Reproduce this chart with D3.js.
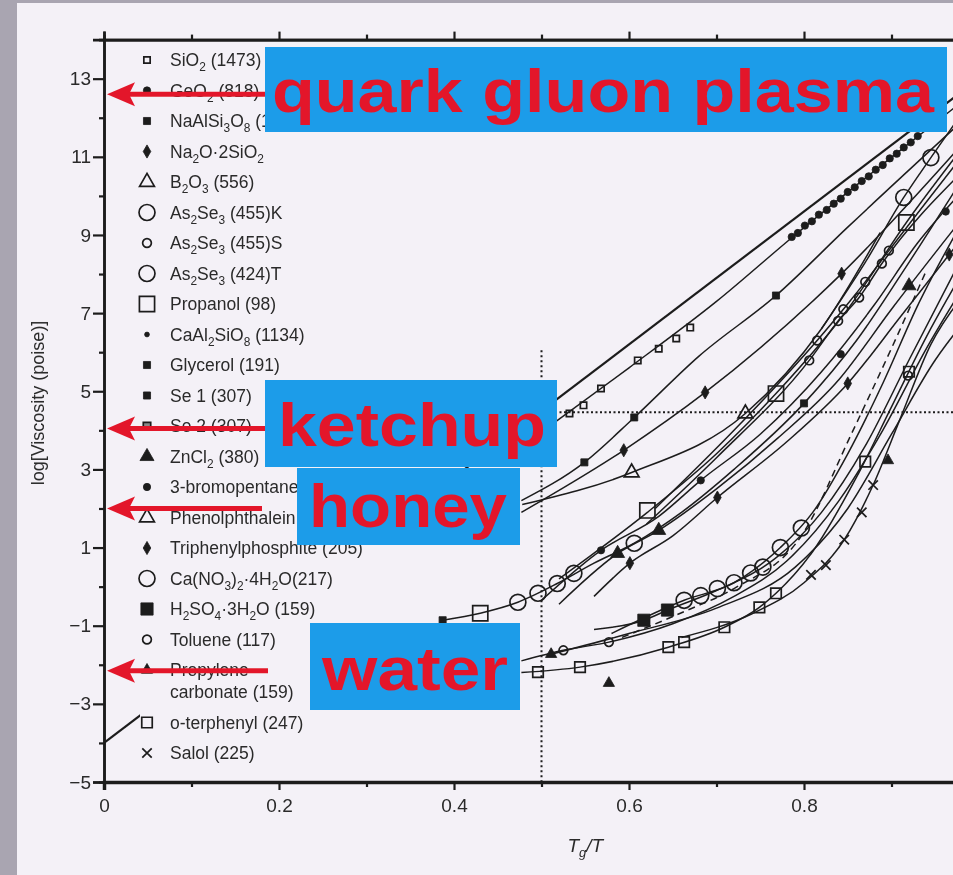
<!DOCTYPE html>
<html>
<head>
<meta charset="utf-8">
<script src="https://cdn.jsdelivr.net/npm/d3@7"></script>
<style>
  body { margin: 0; background: #f4f1f7; }
  svg { display: block; }
</style>
</head>
<body>
<svg id="chart" width="953" height="875"></svg>
<script>
// Angell plot (log viscosity vs Tg/T) with the slide's labels on top.

// ---- data: [Tg/T, log viscosity] ----
var sio2Fit = [[0, -4], [1, 13]];
var sio2bFit = [[0.515, 4.2], [0.6, 5.6], [0.7, 7.3], [0.786, 8.93], [0.929, 11.5], [0.98, 12.4]];
var sio2Pts = [[0.532, 4.43], [0.548, 4.64], [0.568, 5.07], [0.61, 5.79], [0.634, 6.09], [0.654, 6.35], [0.67, 6.63]];
var geo2Pts = [[0.786, 8.95], [0.793, 9.05], [0.801, 9.24], [0.809, 9.35], [0.817, 9.52], [0.826, 9.64],
  [0.834, 9.8], [0.842, 9.93], [0.85, 10.1], [0.858, 10.22], [0.866, 10.38], [0.874, 10.5], [0.882, 10.67],
  [0.89, 10.79], [0.898, 10.96], [0.906, 11.08], [0.914, 11.24], [0.922, 11.37], [0.93, 11.53]];
var naalFit = [[0.477, 2.2], [0.549, 3.18], [0.606, 4.33], [0.68, 5.9], [0.768, 7.45], [0.85, 9.2], [0.98, 11.9]];
var naalPts = [[0.549, 3.18], [0.606, 4.33], [0.768, 7.45]];
var na2oFit = [[0.477, 1.9], [0.594, 3.49], [0.687, 4.97], [0.843, 8.01], [0.98, 11.3]];
var na2oPts = [[0.594, 3.49], [0.687, 4.97], [0.843, 8.01]];
var b2o3Fit = [[0.478, 2.1], [0.603, 2.92], [0.733, 4.43], [0.82, 6.6], [0.887, 9.06]];
var b2o3Pts = [[0.603, 2.92], [0.733, 4.43]];
var propanolFit = [[0.52, 0.2], [0.621, 1.9], [0.7, 3.4], [0.768, 4.94], [0.85, 7.1], [0.917, 9.32], [0.98, 11.2]];
var propanolPts = [[0.621, 1.95], [0.768, 4.94], [0.917, 9.32]];
var asSFit = [[0.62, 1.6], [0.7, 3.3], [0.806, 5.79], [0.839, 6.8], [0.863, 7.4], [0.889, 8.27], [0.98, 10.6]];
var asSPts = [[0.806, 5.79], [0.839, 6.8], [0.863, 7.4], [0.889, 8.27]];
var asTFit = [[0.63, 2.0], [0.72, 4.0], [0.815, 6.3], [0.845, 7.1], [0.87, 7.8], [0.897, 8.6], [0.98, 11.0]];
var asTPts = [[0.815, 6.3], [0.845, 7.1], [0.87, 7.8], [0.897, 8.6]];
var asKFit = [[0.82, 6.6], [0.87, 8.3], [0.914, 9.96], [0.945, 10.98], [0.98, 12.1]];
var asKPts = [[0.914, 9.96], [0.945, 10.98]];

var m1Fit = [[0.387, -0.86], [0.43, -0.68], [0.473, -0.4], [0.518, 0.08], [0.56, 0.6], [0.606, 1.11],
  [0.66, 1.9], [0.72, 3.0], [0.8, 4.69], [0.86, 6.3], [0.92, 8.3], [0.98, 10.4]];
var m1Pts = [[0.473, -0.4], [0.496, -0.17], [0.518, 0.08], [0.537, 0.34], [0.606, 1.11]];
var m1Square = [[0.43, -0.68]];
var m1Start = [[0.387, -0.86], [0.8, 4.69]];
var m2Fit = [[0.5, -0.35], [0.568, 0.93], [0.634, 1.8], [0.682, 2.72], [0.75, 3.9], [0.82, 5.5], [0.88, 7.2], [0.93, 8.8], [0.98, 10.1]];
var m2Pts = [[0.568, 0.93], [0.682, 2.72], [0.842, 5.95], [0.962, 9.6]];
var m3Fit = [[0.52, -0.45], [0.587, 0.85], [0.634, 1.44], [0.7, 2.5], [0.77, 3.8], [0.84, 5.3], [0.9, 7.1], [0.98, 9.4]];
var m3Pts = [[0.587, 0.85], [0.634, 1.44], [0.92, 7.7]];
var m4Fit = [[0.56, -0.25], [0.601, 0.6], [0.65, 1.3], [0.701, 2.28], [0.78, 3.7], [0.85, 5.2], [0.91, 6.9], [0.98, 8.9]];
var m4Pts = [[0.601, 0.6], [0.701, 2.28], [0.85, 5.2], [0.966, 8.5]];

var canoFit = [[0.58, -1.2], [0.663, -0.35], [0.72, 0.1], [0.773, 1.0], [0.81, 1.9], [0.85, 3.4], [0.89, 5.2], [0.93, 7.2], [0.98, 9.3]];
var canoPts = [[0.663, -0.35], [0.682, -0.23], [0.701, -0.05], [0.72, 0.1], [0.739, 0.35], [0.753, 0.5], [0.773, 1.0], [0.797, 1.5]];
var otpFit = [[0.477, -2.2], [0.544, -2.06], [0.645, -1.55], [0.709, -1.04], [0.749, -0.53], [0.768, -0.17], [0.81, 0.9],
  [0.86, 2.8], [0.9, 4.6], [0.94, 6.4], [0.98, 8.0]];
var otpPts = [[0.496, -2.19], [0.544, -2.06], [0.645, -1.55], [0.663, -1.42], [0.709, -1.04], [0.749, -0.53], [0.768, -0.17], [0.87, 3.2], [0.92, 5.5]];
var tolFit = [[0.477, -1.9], [0.525, -1.63], [0.577, -1.42], [0.65, -0.95], [0.72, -0.25], [0.78, 0.65], [0.84, 2.2], [0.89, 4.0], [0.94, 6.1], [0.98, 7.6]];
var tolPts = [[0.525, -1.63], [0.577, -1.42], [0.919, 5.4]];
var salolFit = [[0.66, -1.3], [0.74, -0.7], [0.8, 0.1], [0.846, 1.2], [0.879, 2.6], [0.91, 4.3], [0.945, 6.2], [0.98, 7.4]];
var salolPts = [[0.808, 0.3], [0.825, 0.55], [0.846, 1.2], [0.866, 1.9], [0.879, 2.6]];
var h2so4Fit = [[0.56, -1.1], [0.617, -0.86], [0.644, -0.6], [0.7, -0.1], [0.76, 0.6], [0.82, 1.9], [0.87, 3.6], [0.92, 5.8], [0.98, 8.4]];
var h2so4Pts = [[0.617, -0.86], [0.644, -0.6]];
var dashFit = [[0.592, -1.3], [0.667, -0.6], [0.72, -0.05], [0.8, 1.4], [0.854, 3.9], [0.9, 6.1], [0.94, 8.1]];
var pcFit = [[0.511, -1.73], [0.6, -1.2], [0.7, -0.55], [0.79, 0.5], [0.85, 2.0], [0.9, 3.9], [0.95, 5.8], [0.98, 6.7]];
var pcPts = [[0.511, -1.73], [0.577, -2.47], [0.896, 3.23]];

// legend
var legendLabels = ["SiO{2} (1473)", "GeO{2} (818)", "NaAlSi{3}O{8} (1095)", "Na{2}O·2SiO{2}", "B{2}O{3} (556)",
  "As{2}Se{3} (455)K", "As{2}Se{3} (455)S", "As{2}Se{3} (424)T", "Propanol (98)", "CaAl{2}SiO{8} (1134)",
  "Glycerol (191)", "Se 1 (307)", "Se 2 (307)", "ZnCl{2} (380)", "3-bromopentane (108)", "Phenolphthalein (363)",
  "Triphenylphosphite (205)", "Ca(NO{3}){2}·4H{2}O(217)", "H{2}SO{4}·3H{2}O (159)", "Toluene (117)",
  "Propylene|carbonate (159)", "o-terphenyl (247)", "Salol (225)"];
var legendSymbols = ["sqS", "dotM", "sqF", "dia", "triO", "cirL", "cirS", "cirL", "sqL", "dotS",
  "sqF", "sqF", "sqG", "triF", "dotM", "triO", "dia", "cirL", "sqFL", "cirS", "triS", "sqM", "times"];

// ticks (1.0 falls just off the photo, so it gets no label)
var yMajor = [-5, -3, -1, 1, 3, 5, 7, 9, 11, 13];
var yMinor = [-4, -2, 0, 2, 4, 6, 8, 10, 12];
var xMajor = [0, 0.2, 0.4, 0.6, 0.8, 1.0];
var xLabelled = [0, 0.2, 0.4, 0.6, 0.8];
var xMinor = [0.1, 0.3, 0.5, 0.7, 0.9];

// slide annotations: label and the log viscosity its arrow points to
var notes = ["quark gluon plasma", "ketchup", "honey", "water"];
var noteTargets = [12.6, 4.05, 2.0, -2.15];

// ---- drawing ----
var W = 953, H = 875;
var ink = "#1c1c1c";
var svg = d3.select("#chart");

var x = d3.scaleLinear().domain([0, 1]).range([104, 979]);
var y = d3.scaleLinear().domain([-5, 14]).range([782, 39.6]);

var defs = svg.append("defs");
defs.append("filter").attr("id", "soft").attr("x", "-5%").attr("y", "-5%").attr("width", "110%").attr("height", "110%")
  .append("feGaussianBlur").attr("stdDeviation", 0.75);
defs.append("filter").attr("id", "softer")
  .append("feGaussianBlur").attr("stdDeviation", 0.5);
defs.append("clipPath").attr("id", "plotclip").append("rect")
  .attr("x", x(0)).attr("y", y(14)).attr("width", x(1) - x(0)).attr("height", y(-5) - y(14));

svg.append("rect").attr("width", W).attr("height", H).attr("fill", "#f4f1f7");

var plot = svg.append("g").attr("filter", "url(#soft)");
var curves = plot.append("g").attr("clip-path", "url(#plotclip)");

var line = d3.line().x(function(d){ return x(d[0]); }).y(function(d){ return y(d[1]); }).curve(d3.curveMonotoneX);

var symbolSpecs = {
  sqS:  {type: d3.symbolSquare, size: 40, fill: false},
  dotM: {type: d3.symbolCircle, size: 42, fill: true},
  dotS: {type: d3.symbolCircle, size: 18, fill: true},
  sqF:  {type: d3.symbolSquare, size: 50, fill: true},
  sqFL: {type: d3.symbolSquare, size: 150, fill: true},
  sqG:  {type: d3.symbolSquare, size: 55, fill: "#8a8a8a"},
  dia:  {type: d3.symbolDiamond, size: 50, fill: true},
  triO: {type: d3.symbolTriangle, size: 95, fill: false},
  triF: {type: d3.symbolTriangle, size: 85, fill: true},
  triS: {type: d3.symbolTriangle, size: 55, fill: true},
  cirL: {type: d3.symbolCircle, size: 200, fill: false},
  cirS: {type: d3.symbolCircle, size: 60, fill: false},
  sqL:  {type: d3.symbolSquare, size: 230, fill: false},
  sqM:  {type: d3.symbolSquare, size: 110, fill: false},
  times:{type: d3.symbolTimes || d3.symbolCross, size: 60, fill: false, rotate: d3.symbolTimes ? 0 : 45}
};

function drawSymbols(g, pts, key, px, py){
  var spec = symbolSpecs[key];
  var gen = d3.symbol().type(spec.type).size(spec.size);
  g.selectAll(null).data(pts).enter().append("path")
    .attr("d", gen)
    .attr("transform", function(d){
      return "translate(" + (px ? px(d) : x(d[0])) + "," + (py ? py(d) : y(d[1])) + ")" + (spec.rotate ? " rotate(" + spec.rotate + ")" : "");
    })
    .attr("fill", spec.fill === true ? ink : (spec.fill ? spec.fill : "none"))
    .attr("stroke", ink)
    .attr("stroke-width", spec.fill === true ? 0.8 : 1.7);
}

var series = [
  {fit: sio2Fit, w: 2.2},
  {fit: sio2bFit, pts: sio2Pts, sym: "sqS"},
  {pts: geo2Pts, sym: "dotM"},
  {fit: naalFit, pts: naalPts, sym: "sqF"},
  {fit: na2oFit, pts: na2oPts, sym: "dia"},
  {fit: b2o3Fit, pts: b2o3Pts, sym: "triO"},
  {fit: propanolFit, pts: propanolPts, sym: "sqL"},
  {fit: asSFit, pts: asSPts, sym: "cirS"},
  {fit: asTFit, pts: asTPts, sym: "cirS"},
  {fit: asKFit, pts: asKPts, sym: "cirL"},
  {fit: m1Fit, pts: m1Pts, sym: "cirL"},
  {pts: m1Square, sym: "sqL"},
  {pts: m1Start, sym: "sqF"},
  {fit: m2Fit, pts: m2Pts, sym: "dotM"},
  {fit: m3Fit, pts: m3Pts, sym: "triF"},
  {fit: m4Fit, pts: m4Pts, sym: "dia"},
  {fit: canoFit, pts: canoPts, sym: "cirL"},
  {fit: otpFit, pts: otpPts, sym: "sqM"},
  {fit: tolFit, pts: tolPts, sym: "cirS"},
  {fit: salolFit, pts: salolPts, sym: "times"},
  {fit: h2so4Fit, pts: h2so4Pts, sym: "sqFL"},
  {fit: dashFit, dash: "7,5"},
  {fit: pcFit, pts: pcPts, sym: "triS"}
];

series.forEach(function(s){
  if (s.fit) {
    curves.append("path").datum(s.fit).attr("d", line)
      .attr("fill", "none").attr("stroke", ink).attr("stroke-width", s.w || 1.5)
      .attr("stroke-dasharray", s.dash || null);
  }
});
series.forEach(function(s){
  if (s.pts) drawSymbols(curves, s.pts, s.sym);
});

// reference dotted lines at Tg/T = 0.5
curves.append("line").attr("x1", x(0.5)).attr("x2", x(0.5)).attr("y1", y(6.05)).attr("y2", y(-5))
  .attr("stroke", ink).attr("stroke-width", 2).attr("stroke-dasharray", "2,3");
curves.append("line").attr("x1", x(0.5)).attr("x2", x(1)).attr("y1", y(4.46)).attr("y2", y(4.46))
  .attr("stroke", ink).attr("stroke-width", 2).attr("stroke-dasharray", "2,2.5");

// legend sits on an opaque panel
var legendTop = 60, rowH = 30.5, wrapH = 22;
function rowY(i){ return legendTop + i * rowH + (i > 20 ? wrapH : 0); }
var legend = plot.append("g");
legend.append("rect").attr("x", 140).attr("y", 46).attr("width", 296).attr("height", 720).attr("fill", "#f4f1f7");

function richText(t, str){
  var parts = str.split(/(\{[^}]*\})/).filter(function(p){ return p.length; });
  var lowered = false;
  parts.forEach(function(p){
    var sub = p.charAt(0) === "{";
    var ts = t.append("tspan").text(sub ? p.slice(1, -1) : p);
    if (sub && !lowered) { ts.attr("dy", 5).attr("font-size", "0.68em"); lowered = true; }
    else if (sub) { ts.attr("font-size", "0.68em"); }
    else if (lowered) { ts.attr("dy", -5); lowered = false; }
  });
}

legendLabels.forEach(function(lab, i){
  var yy = rowY(i);
  drawSymbols(legend, [[0, 0]], legendSymbols[i], function(){ return 147; }, function(){ return yy; });
  var linesOf = lab.split("|");
  linesOf.forEach(function(ln, k){
    var t = legend.append("text").attr("x", 170).attr("y", yy + 6 + k * wrapH)
      .attr("font-family", "Liberation Sans, Arial, sans-serif").attr("font-size", 17.5)
      .attr("fill", "#2a2a2a");
    richText(t, ln);
  });
});

// axes
var axisFont = "Liberation Sans, Arial, sans-serif";
var axes = plot.append("g").attr("color", ink);
axes.append("g").attr("transform", "translate(" + x(0) + ",0)")
  .call(d3.axisLeft(y).tickValues(yMajor).tickSize(11).tickPadding(2).tickFormat(d3.format("d")));
axes.append("g").attr("transform", "translate(" + x(0) + ",0)")
  .call(d3.axisLeft(y).tickValues(yMinor).tickSize(5).tickFormat(""));
var bottom = axes.append("g").attr("transform", "translate(0," + y(-5) + ")")
  .call(d3.axisBottom(x).tickValues(xMajor).tickSize(8).tickPadding(9)
    .tickFormat(function(d){
      if (xLabelled.indexOf(d) < 0) return "";
      return d === 0 ? "0" : d3.format(".1f")(d);
    }));
axes.append("g").attr("transform", "translate(0," + y(-5) + ")")
  .call(d3.axisBottom(x).tickValues(xMinor).tickSize(5).tickFormat(""));
axes.append("g").attr("transform", "translate(0," + y(14) + ")")
  .call(d3.axisTop(x).tickValues(xMajor).tickSize(8).tickFormat(""));
axes.append("g").attr("transform", "translate(0," + y(14) + ")")
  .call(d3.axisTop(x).tickValues(xMinor).tickSize(5).tickFormat(""));
axes.selectAll(".domain").attr("stroke-width", 2.6);
axes.selectAll(".tick line").attr("stroke-width", 2.2);
axes.selectAll(".tick text").attr("font-family", axisFont).attr("font-size", 19).attr("fill", "#2a2a2a");
bottom.select(".domain").attr("stroke-width", 3.4);

axes.append("text").attr("transform", "translate(44," + y(4.7) + ") rotate(-90)")
  .attr("text-anchor", "middle").attr("font-family", axisFont).attr("font-size", 18).attr("fill", "#2a2a2a")
  .text("log[Viscosity (poise)]");
var xl = axes.append("text").attr("x", x(0.55)).attr("y", 852).attr("text-anchor", "middle")
  .attr("font-family", axisFont).attr("font-size", 19).attr("font-style", "italic").attr("fill", "#2a2a2a");
xl.append("tspan").text("T");
xl.append("tspan").attr("dy", 5).attr("font-size", 13).text("g");
xl.append("tspan").attr("dy", -5).text("/T");

// photo edges
svg.append("rect").attr("width", 17).attr("height", H).attr("fill", "#a9a5b1");
svg.append("rect").attr("width", W).attr("height", 3).attr("fill", "#a9a5b1");

// slide labels and arrows
var boxes = [
  {x0: 265, x1: 947, y0: 47, y1: 132, base: 112, tx: 272, tl: 662},
  {x0: 265, x1: 557, y0: 380, y1: 467, base: 446, tx: 278, tl: 268},
  {x0: 297, x1: 520, y0: 468, y1: 545, base: 527, tx: 309, tl: 198},
  {x0: 310, x1: 520, y0: 623, y1: 710, base: 690, tx: 322, tl: 186}
];
var tails = [265, 265, 262, 268];
var red = "#e3182a", blue = "#1e9ce9";
var ann = svg.append("g").attr("filter", "url(#softer)");

noteTargets.forEach(function(v, i){
  var yy = y(v), tip = x(0) + 3;
  ann.append("line").attr("x1", tip + 20).attr("x2", tails[i]).attr("y1", yy).attr("y2", yy)
    .attr("stroke", red).attr("stroke-width", 5);
  ann.append("path").attr("d", "M" + tip + "," + yy + " L" + (tip + 28) + "," + (yy - 12) +
      " L" + (tip + 22) + "," + yy + " L" + (tip + 28) + "," + (yy + 12) + " Z")
    .attr("fill", red);
});

boxes.forEach(function(b, i){
  ann.append("rect").attr("x", b.x0).attr("y", b.y0).attr("width", b.x1 - b.x0).attr("height", b.y1 - b.y0)
    .attr("fill", blue);
  ann.append("text").attr("x", b.tx).attr("y", b.base)
    .attr("font-family", "Liberation Sans, Arial, sans-serif").attr("font-weight", "bold")
    .attr("font-size", 62).attr("fill", red)
    .attr("textLength", b.tl).attr("lengthAdjust", "spacingAndGlyphs")
    .text(notes[i]);
});
</script>
</body>
</html>
